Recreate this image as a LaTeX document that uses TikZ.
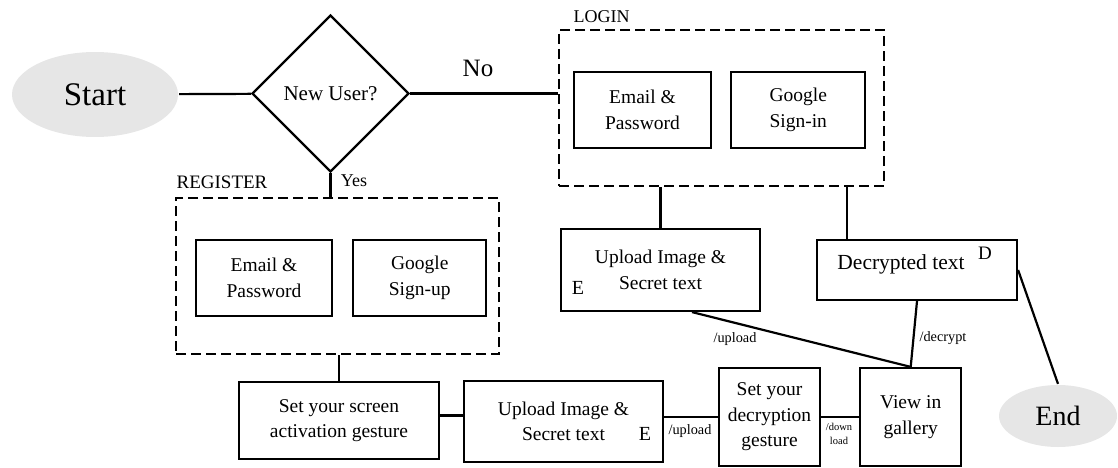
\documentclass[tikz,border=0pt]{standalone}
\usepackage{fontspec}
\setmainfont{Liberation Serif}
\usepackage{tikz}
\usetikzlibrary{shapes,positioning}
\definecolor{termgray}{RGB}{230,230,230}

\begin{document}
\begin{tikzpicture}[x=1pt, y=-1pt, node distance=19pt, line width=2.2pt]
  \tikzstyle{term} = [ellipse, fill=termgray, inner sep=0pt]
  \tikzstyle{decision} = [diamond, draw, inner sep=0pt, minimum width=157pt, minimum height=157pt, font=\fontsize{21}{24}\selectfont]
  \tikzstyle{group} = [rectangle, draw, dash pattern=on 10pt off 5pt]
  \tikzstyle{process} = [rectangle, draw, align=center, inner sep=0pt, font=\fontsize{19.5}{25.5}\selectfont]
  \tikzstyle{tag} = [inner sep=0pt, font=\fontsize{18}{20}\selectfont]
  \tikzstyle{edgetext} = [inner sep=0pt, align=center, font=\fontsize{14.3}{15}\selectfont]

  \useasboundingbox (0,0) rectangle (1118,468);

  \node[term, minimum width=166pt, minimum height=85pt, font=\fontsize{33}{38}\selectfont] (start) at (95,94.5) {Start};
  \node[decision] (user) at (330.5,93.5) {New User?};

  % login group
  \node[group, minimum width=325pt, minimum height=156pt] (login) at (721.5,108) {};
  \node[tag] (logintag) at (601.5,17) {LOGIN};
  \node[process, minimum width=137pt, minimum height=76pt] (loginmail) at (642.5,110) {Email \&\\Password};
  \node[process, minimum width=134pt, minimum height=76pt, right=18pt of loginmail] (logingoogle) {Google\\Sign-in};

  % register group
  \node[group, minimum width=323pt, minimum height=156pt] (reg) at (337.5,276) {};
  \node[tag, font=\fontsize{19}{20}\selectfont] (regtag) at (222,182) {REGISTER};
  \node[process, minimum width=136pt, minimum height=76pt] (regmail) at (264,278) {Email \&\\Password};
  \node[process, minimum width=133pt, minimum height=76pt, right=19pt of regmail] (reggoogle) {Google\\Sign-up};

  % bottom row
  \node[process, minimum width=200pt, minimum height=77pt] (screen) at (339,420.5) {Set your screen\\activation gesture};
  \node[process, minimum width=199pt, minimum height=81pt] (upload2) at (563.5,421.5) {Upload Image \&\\Secret text};
  \node[process, minimum width=101pt, minimum height=98pt] (decgest) at (769.5,417) {Set your\\decryption\\gesture};
  \node[process, minimum width=101pt, minimum height=98pt, right=38pt of decgest] (view) {View in\\gallery};

  % upper row
  \node[process, minimum width=199pt, minimum height=82pt] (upload1) at (660.5,270) {Upload Image \&\\Secret text};
  \node[process, minimum width=200pt, minimum height=60pt] (decrypted) at (917,270) {};
  \node[tag, font=\fontsize{21.5}{25}\selectfont] (dectext) at (901,264) {Decrypted text};
  \node[term, minimum width=118pt, minimum height=62pt, font=\fontsize{28}{32}\selectfont] (end) at (1058,416) {End};

  % markers
  \node[tag, font=\fontsize{20}{20}\selectfont] (e1) at (578,288) {E};
  \node[tag, font=\fontsize{20}{20}\selectfont] (e2) at (645,434) {E};
  \node[tag, font=\fontsize{19}{20}\selectfont] (d1) at (985,253) {D};

  % Start -> decision
  \draw (start) -- (user);

  % No
  \draw (user.east) -- (user.east -| login.west);
  \node[tag, font=\fontsize{25}{28}\selectfont] (no) at (478,68) {No};

  % Yes
  \draw (user.south) -- (user.south |- reg.north);
  \node[tag] (yes) at (354,181) {Yes};

  % register -> bottom row
  \draw (screen.north) -- (screen.north |- reg.south);
  \draw ([yshift=5pt]screen.east) -- ([yshift=5pt]screen.east -| upload2.west);
  \draw (decgest.west) -- (decgest.west -| upload2.east);
  \node[edgetext] (up2) at (690,431) {/upload};
  \draw (decgest.east) -- (decgest.east -| view.west);
  \node[edgetext, font=\fontsize{10.5}{14}\selectfont] (down) at (839,434) {/down\\load};

  % login -> upper row
  \draw (upload1.north) -- (upload1.north |- login.south);
  \draw ([xshift=-70pt]decrypted.north) -- ([xshift=-70pt]decrypted.north |- login.south);
  \draw ([xshift=31.5pt]upload1.south) -- (view.north);
  \node[edgetext] (up1) at (735,339) {/upload};
  \draw (decrypted.south) -- (view.north);
  \node[edgetext] (dec) at (943,338) {/decrypt};

  % End
  \draw (decrypted.east) -- (end.north);
\end{tikzpicture}
\end{document}
